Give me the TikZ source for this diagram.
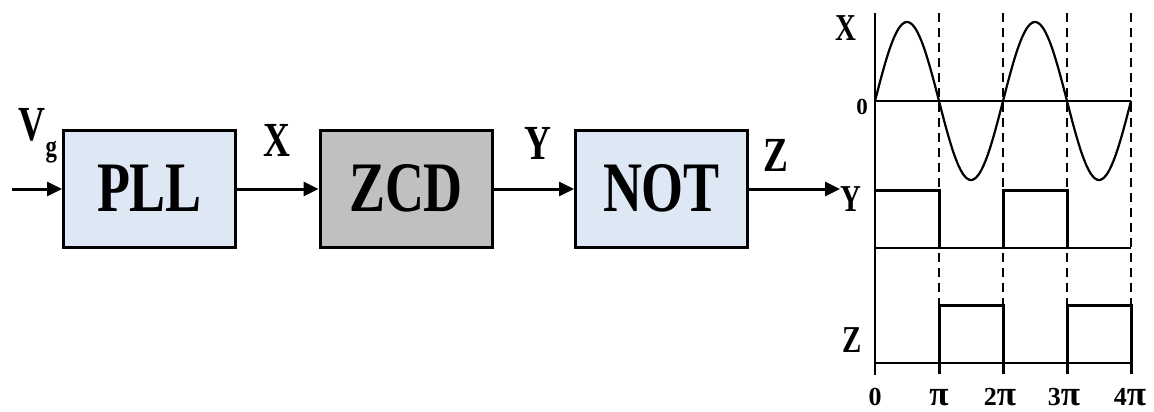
\documentclass[tikz,border=0pt]{standalone}
\usepackage{fontspec}
\setmainfont{Liberation Serif}
\newfontfamily\cond[FakeStretch=0.76]{Liberation Serif}
\usetikzlibrary{arrows.meta}
\definecolor{blockblue}{RGB}{222,232,245}
\definecolor{blockgray}{RGB}{192,192,192}
\newcommand{\bigpi}{\scalebox{1.35}{π}}

\begin{document}
\begin{tikzpicture}[x=1pt,y=-1pt,
  block/.style={draw,line width=3pt,minimum width=172pt,minimum height=117pt,
    inner sep=0pt,font=\cond\bfseries\fontsize{71}{71}\selectfont},
  sig/.style={-{Triangle[length=15pt,width=14pt]},line width=3pt},
  lbl/.style={inner sep=0pt,font=\cond\bfseries\fontsize{49}{49}\selectfont},
  wlbl/.style={inner sep=0pt,font=\cond\bfseries\fontsize{38}{38}\selectfont},
  tlbl/.style={inner sep=0pt,anchor=base,font=\bfseries\fontsize{26}{26}\selectfont},
  wave/.style={line width=2.2pt},
  pulse/.style={line width=3pt,line join=miter},
  guide/.style={line width=2pt,dash pattern=on 9pt off 6pt},
]
\useasboundingbox (0,0) rectangle (1154,412);

% block chain
\coordinate (in) at (12,189);
\node[block,fill=blockblue] (pll) at (149.5,188.5) {PLL};
\node[block,fill=blockgray] (zcd) at (406,188.5) {ZCD};
\node[block,fill=blockblue] (not) at (661.5,188.5) {NOT};
\coordinate (out) at (840,189);

\draw[sig] (in) -- (pll.west|-in);
\draw[sig] (pll.east|-in) -- (zcd.west|-in);
\draw[sig] (zcd.east|-in) -- (not.west|-in);
\draw[sig] (not.east|-in) -- (out);

\node[lbl] (vg) at (38,136) {V\raisebox{-0.32em}{\fontsize{30}{30}\selectfont g}};
\node[lbl] (lx) at (277,140) {X};
\node[lbl] (ly) at (538,143) {Y};
\node[lbl] (lz) at (776,155) {Z};

% waveforms
\foreach \x in {939,1003,1067,1131}
  \draw[guide] (\x,13) -- (\x,363);

\draw[line width=2.5pt] (875,13) -- (875,375);
\draw[wave] (875,101) -- (1131,101);
\draw[wave,domain=0:720,samples=145,smooth] plot ({875+\x/720*256},{101-79*sin(\x)});

\draw[wave] (875,248) -- (1131,248);
\draw[pulse] (875,190) -- (939,190) -- (939,248);
\draw[pulse] (1003,248) -- (1003,190) -- (1067,190) -- (1067,248);

\draw[wave] (875,363) -- (1131,363);
\draw[pulse] (939,374) -- (939,305) -- (1003,305) -- (1003,374);
\draw[pulse] (1067,374) -- (1067,305) -- (1131,305) -- (1131,374);

\node[wlbl] (wx) at (846,28) {X};
\node[inner sep=0pt,font=\bfseries\fontsize{23}{23}\selectfont] (w0) at (862,107) {0};
\node[wlbl] (wy) at (851,199) {Y};
\node[wlbl] (wz) at (852,340) {Z};

\node[tlbl] (t0) at (875,405) {0};
\node[tlbl] (t1) at (939,405) {\bigpi};
\node[tlbl] (t2) at (1000,405) {2\bigpi};
\node[tlbl] (t3) at (1064,405) {3\bigpi};
\node[tlbl] (t4) at (1130,405) {4\bigpi};
\end{tikzpicture}
\end{document}
